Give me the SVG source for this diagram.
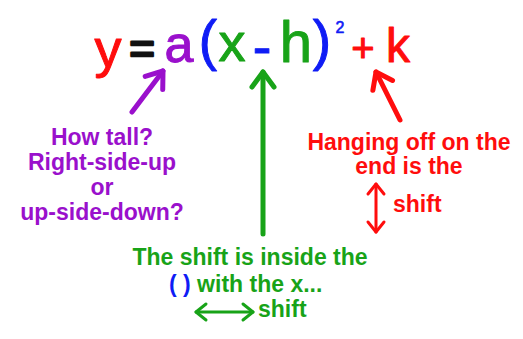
<svg xmlns="http://www.w3.org/2000/svg" width="523" height="339" viewBox="0 0 523 339">
<style>
.eq{font-family:"Liberation Sans",Arial,sans-serif;text-anchor:middle;stroke-width:1;stroke-linejoin:round}
.lbl{font-family:"Liberation Sans",Arial,sans-serif;font-weight:bold;font-size:23px}
.red{fill:#ff0d0d;stroke:#ff0d0d}
.pur{fill:#9a10cc;stroke:#9a10cc}
.grn{fill:#18a318;stroke:#18a318}
.blu{fill:#0f1cf5;stroke:#0f1cf5}
.blk{fill:#111;stroke:#111}
text.lbl.red,text.lbl.pur,text.lbl.grn,tspan.blu{stroke:none}
.arr{fill:none;stroke-linecap:round;stroke-linejoin:round}
</style>
<defs>
<marker id="hp" markerUnits="userSpaceOnUse" markerWidth="30" markerHeight="30" refX="0" refY="0" viewBox="-20 -15 30 30" orient="auto" overflow="visible">
<path d="M-15,-11 L0,0 L-15,11" fill="none" stroke="#9a10cc" stroke-width="5" stroke-linecap="round" stroke-linejoin="round"/>
</marker>
<marker id="hg" markerUnits="userSpaceOnUse" markerWidth="30" markerHeight="30" refX="0" refY="0" viewBox="-20 -15 30 30" orient="auto" overflow="visible">
<path d="M-15,-11 L0,0 L-15,11" fill="none" stroke="#18a318" stroke-width="5" stroke-linecap="round" stroke-linejoin="round"/>
</marker>
<marker id="hr" markerUnits="userSpaceOnUse" markerWidth="30" markerHeight="30" refX="0" refY="0" viewBox="-20 -15 30 30" orient="auto" overflow="visible">
<path d="M-15,-11 L0,0 L-15,11" fill="none" stroke="#ff0d0d" stroke-width="5" stroke-linecap="round" stroke-linejoin="round"/>
</marker>
<marker id="sr" markerUnits="userSpaceOnUse" markerWidth="20" markerHeight="20" refX="0" refY="0" viewBox="-12 -10 20 20" orient="auto-start-reverse" overflow="visible">
<path d="M-10,-8 L0,0 L-10,8" fill="none" stroke="#ff0d0d" stroke-width="3" stroke-linecap="round" stroke-linejoin="round"/>
</marker>
<marker id="sg" markerUnits="userSpaceOnUse" markerWidth="20" markerHeight="20" refX="0" refY="0" viewBox="-12 -10 20 20" orient="auto-start-reverse" overflow="visible">
<path d="M-10,-8 L0,0 L-10,8" fill="none" stroke="#18a318" stroke-width="3" stroke-linecap="round" stroke-linejoin="round"/>
</marker>
</defs>
<rect width="523" height="339" fill="#fff"/>
<g id="equation">
<text class="eq red" x="108" y="67" font-size="54">y</text>
<text class="eq blk" x="142" y="64" font-size="44" style="stroke-width:2.5">=</text>
<text class="eq pur" x="179" y="62" font-size="52">a</text>
<text class="eq blu" x="208" y="59" font-size="55">(</text>
<text class="eq grn" x="232" y="61" font-size="54">x</text>
<text class="eq blu" x="262" y="66" font-size="56">-</text>
<text class="eq grn" x="296" y="62" font-size="58">h</text>
<text class="eq blu" x="322" y="59" font-size="55">)</text>
<text class="eq blu" x="340" y="33" font-size="16" style="stroke-width:0.6">2</text>
<text class="eq red" x="363" y="62" font-size="40">+</text>
<text class="eq red" x="398" y="62" font-size="48">k</text>
</g>
<g id="label-a">
<text class="lbl pur" text-anchor="middle" x="102" y="145">How tall?</text>
<text class="lbl pur" text-anchor="middle" x="102" y="170">Right-side-up</text>
<text class="lbl pur" text-anchor="middle" x="102" y="195">or</text>
<text class="lbl pur" text-anchor="middle" x="102" y="220">up-side-down?</text>
</g>
<g id="label-h">
<text class="lbl grn" text-anchor="middle" x="250" y="265">The shift is inside the</text>
<text class="lbl grn" x="169" y="292"><tspan class="blu">( )</tspan> with the x...</text>
<text class="lbl grn" x="258" y="317">shift</text>
</g>
<g id="label-k">
<text class="lbl red" text-anchor="middle" x="409" y="150" font-size="22">Hanging off on the</text>
<text class="lbl red" text-anchor="middle" x="409" y="174" font-size="22">end is the</text>
<text class="lbl red" x="393" y="212">shift</text>
</g>
<g id="connectors">
<path class="arr" d="M132,112 L163,71" stroke="#9a10cc" stroke-width="5" marker-end="url(#hp)"/>
<path class="arr" d="M263,234 L263,72" stroke="#18a318" stroke-width="5" marker-end="url(#hg)"/>
<path class="arr" d="M400,120 L376,72" stroke="#ff0d0d" stroke-width="5" marker-end="url(#hr)"/>
<path class="arr" d="M376,184 L376,232" stroke="#ff0d0d" stroke-width="3" marker-start="url(#sr)" marker-end="url(#sr)"/>
<path class="arr" d="M196,312 L253,312" stroke="#18a318" stroke-width="3" marker-start="url(#sg)" marker-end="url(#sg)"/>
</g>
</svg>
